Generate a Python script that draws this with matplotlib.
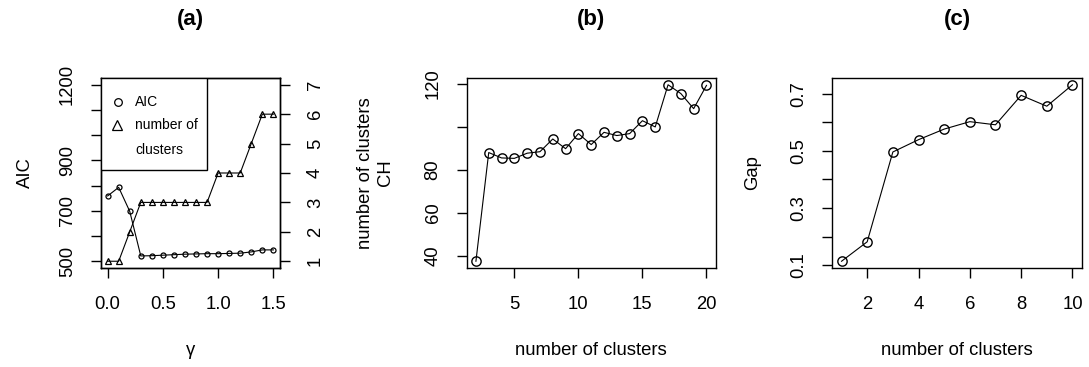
import matplotlib
matplotlib.use("Agg")
import matplotlib.pyplot as plt
from matplotlib.lines import Line2D
from matplotlib.patches import Rectangle
import numpy as np

plt.rcParams["font.family"] = ["Liberation Sans", "DejaVu Sans"]

# panel (a): AIC and number of clusters against gamma
gamma = [0.0, 0.1, 0.2, 0.3, 0.4, 0.5, 0.6, 0.7, 0.8, 0.9, 1.0, 1.1, 1.2, 1.3, 1.4, 1.5]
aic = [759, 793, 698, 521, 522, 524, 526, 528, 529, 530, 530, 531, 532, 537, 545, 545]
n_clusters = [1, 1, 2, 3, 3, 3, 3, 3, 3, 3, 4, 4, 4, 5, 6, 6]

# panel (b): CH index
ch_k = list(range(2, 21))
ch = [37.5, 88.0, 85.5, 85.3, 87.7, 88.4, 94.3, 89.8, 96.8, 91.7,
      97.4, 95.9, 96.8, 102.8, 99.9, 119.5, 115.4, 108.4, 119.2]

# panel (c): gap statistic
gap_k = list(range(1, 11))
gap = [0.114, 0.182, 0.496, 0.539, 0.576, 0.602, 0.591, 0.694, 0.656, 0.731]

W, H = 1089, 367
FS = 13.3
LW = 0.8


def rlim(vals):
    lo, hi = min(vals), max(vals)
    d = 0.04 * (hi - lo)
    return lo - d, hi + d


def px_axes(fig, x0, x1, y0, y1):
    return fig.add_axes([x0 / W, 1 - y1 / H, (x1 - x0) / W, (y1 - y0) / H])


def style(ax, xticks, xlabels, yticks, ylabels):
    for s in ax.spines.values():
        s.set_linewidth(1.0)
    ax.set_xticks(xticks)
    ax.set_xticklabels(xlabels)
    ax.set_yticks(yticks)
    ax.set_yticklabels(ylabels, rotation=90, va="center")
    ax.tick_params(axis="x", direction="out", length=7.5, width=1.0, pad=12.5, labelsize=FS)
    ax.tick_params(axis="y", direction="out", length=7.5, width=1.0, pad=10.5, labelsize=FS)


def title(ax, txt):
    ax.text(0.5, 1.305, txt, transform=ax.transAxes, ha="center", va="center",
            fontsize=16, fontweight="bold")


fig = plt.figure(figsize=(W / 100, H / 100), dpi=100)

# ---- (a)
ax1 = px_axes(fig, 101, 280, 77.7, 268.3)
ax1.plot(gamma, aic, color="black", lw=LW, marker="o", ms=3.6,
         mfc="none", mec="black", mew=0.9)
ax1.set_xlim(rlim(gamma))
ax1.set_ylim(rlim([500, 1200]))
style(ax1, [0.0, 0.5, 1.0, 1.5], ["0.0", "0.5", "1.0", "1.5"],
      list(range(500, 1201, 100)), ["500", "", "700", "", "900", "", "", "1200"])
ax1.set_xlabel("γ", fontsize=FS, va="center")
ax1.xaxis.set_label_coords(0.5, -0.429)
ax1.set_ylabel("AIC", fontsize=FS, va="center")
ax1.yaxis.set_label_coords(-0.4246, 0.5)
title(ax1, "(a)")

ax2 = ax1.twinx()
ax2.plot(gamma, n_clusters, color="black", lw=LW, marker="^", ms=4.8,
         mfc="none", mec="black", mew=0.9)
ax2.set_ylim(rlim([1, 7]))
ax2.set_yticks(range(1, 8))
ax2.set_yticklabels([str(i) for i in range(1, 8)], rotation=90, va="center")
ax2.tick_params(axis="y", direction="out", length=7.5, width=1.0, pad=12, labelsize=FS)
for s in ax2.spines.values():
    s.set_linewidth(1.0)
ax2.set_ylabel("number of clusters", fontsize=FS, rotation=90, va="center")
ax2.yaxis.set_label_coords(1.475, 0.5)

# legend box drawn like R's legend()
ax2.add_patch(Rectangle((0, 0.516), 0.590, 0.484, transform=ax2.transAxes,
                        facecolor="white", edgecolor="black", lw=1.0, zorder=5))
ax2.add_line(Line2D([0.097], [0.871], transform=ax2.transAxes, marker="o", ms=5.5,
                    mfc="none", mec="black", mew=0.9, zorder=6))
ax2.add_line(Line2D([0.092], [0.752], transform=ax2.transAxes, marker="^", ms=7,
                    mfc="none", mec="black", mew=0.9, zorder=6))
ax2.text(0.19, 0.871, "AIC", transform=ax2.transAxes, fontsize=10, va="center", zorder=6)
ax2.text(0.19, 0.752, "number of", transform=ax2.transAxes, fontsize=10, va="center", zorder=6)
ax2.text(0.19, 0.621, "clusters", transform=ax2.transAxes, fontsize=10, va="center", zorder=6)

# ---- (b)
axb = px_axes(fig, 466.7, 715.7, 77.7, 268.3)
axb.plot(ch_k, ch, color="black", lw=LW, marker="o", ms=6.7,
         mfc="none", mec="black", mew=1.0)
axb.set_xlim(rlim(ch_k))
axb.set_ylim(rlim(ch))
style(axb, [5, 10, 15, 20], ["5", "10", "15", "20"],
      [40, 60, 80, 100, 120], ["40", "60", "80", "", "120"])
axb.set_xlabel("number of clusters", fontsize=FS, va="center")
axb.xaxis.set_label_coords(0.5, -0.429)
axb.set_ylabel("CH", fontsize=FS, va="center")
axb.yaxis.set_label_coords(-0.328, 0.5)
title(axb, "(b)")

# ---- (c)
axc = px_axes(fig, 832.3, 1081.7, 77.7, 268.3)
axc.plot(gap_k, gap, color="black", lw=LW, marker="o", ms=6.7,
         mfc="none", mec="black", mew=1.0)
axc.set_xlim(rlim(gap_k))
axc.set_ylim(rlim(gap))
style(axc, [2, 4, 6, 8, 10], ["2", "4", "6", "8", "10"],
      np.round(np.arange(0.1, 0.75, 0.1), 1), ["0.1", "", "0.3", "", "0.5", "", "0.7"])
axc.set_xlabel("number of clusters", fontsize=FS, va="center")
axc.xaxis.set_label_coords(0.5, -0.429)
axc.set_ylabel("Gap", fontsize=FS, va="center")
axc.yaxis.set_label_coords(-0.318, 0.5)
title(axc, "(c)")

fig.savefig("out.png", dpi=100)
